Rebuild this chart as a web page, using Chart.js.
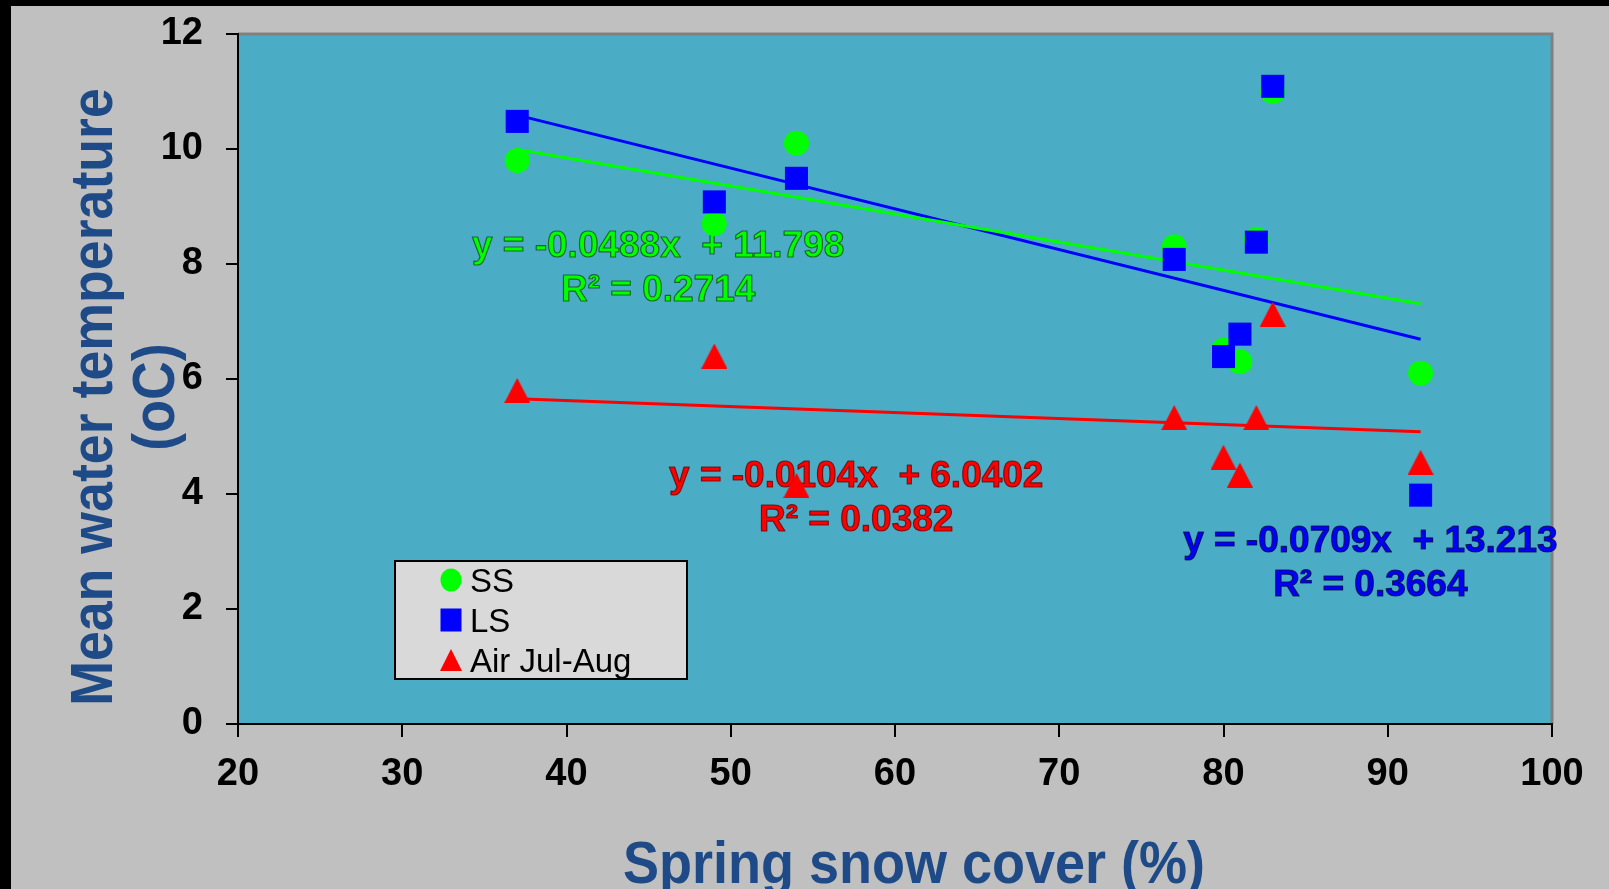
<!DOCTYPE html>
<html><head><meta charset="utf-8">
<script src="https://cdn.jsdelivr.net/npm/chart.js@4.4.1/dist/chart.umd.min.js"></script>
<style>
html,body{margin:0;padding:0;background:#000;overflow:hidden;width:1609px;height:889px;}
#wrap{position:absolute;left:11px;top:6px;width:1598px;height:900px;}
canvas{display:block;}
</style></head><body>
<div id="wrap"><canvas id="c" width="1598" height="900"></canvas></div>
<script>
// ---- data ----
const snowCover = [37, 49, 54, 77, 80, 81, 82, 83, 92];
const ssTemp    = [9.8, 8.7, 10.1, 8.3, 6.5, 6.3, 8.43, 11.0, 6.1];
const lsTemp    = [10.48, 9.08, 9.49, 8.08, 6.39, 6.78, 8.38, 11.09, 3.98];
const airTemp   = [5.8, 6.4, 4.15, 5.33, 4.64, 4.33, 5.33, 7.13, 4.55];
const seriesNames = ['SS', 'LS', 'Air Jul-Aug'];
const trendSlopes = [-0.0488, -0.0709, -0.0104];
const trendIntercepts = ['11.798', '13.213', '6.0402'];
const trendR2 = ['0.2714', '0.3664', '0.0382'];
const xTicks = [20, 30, 40, 50, 60, 70, 80, 90, 100];
const yTicks = [0, 2, 4, 6, 8, 10, 12];
const xTitle = 'Spring snow cover (%)';
const yTitle = ['Mean water temperature', '(oC)'];

// ---- styling ----
const FONT = "'Liberation Sans', Arial, sans-serif";
const colors = ['#00FF00', '#0000FF', '#FF0000'];
const outline = ['rgba(20,70,20,0.75)', 'rgba(0,0,60,0.75)', 'rgba(90,0,0,0.75)'];
// equation label anchors (data units: centre x, baseline y of first line)
const eqAnchors = [{x: 45.58, y: 8.13}, {x: 88.94, y: 2.99}, {x: 57.64, y: 4.12}];

function makeTriangle(w, h, color) {
  const c = document.createElement('canvas'); c.width = w; c.height = h;
  const g = c.getContext('2d'); g.fillStyle = color;
  g.beginPath(); g.moveTo(w / 2, 0); g.lineTo(w, h); g.lineTo(0, h); g.closePath(); g.fill();
  return c;
}
const triImg = makeTriangle(26, 25, colors[2]);

const pts = (ys) => snowCover.map((x, i) => ({x: x, y: ys[i]}));
const xMin = Math.min(...snowCover), xMax = Math.max(...snowCover);
const trend = (k) => [xMin, xMax].map(x => ({x: x, y: trendSlopes[k] * x + parseFloat(trendIntercepts[k])}));

const bgPlugin = {
  id: 'bg',
  beforeDraw(chart) {
    const {ctx, chartArea: a, width, height} = chart;
    ctx.save();
    ctx.fillStyle = '#C0C0C0'; ctx.fillRect(0, 0, width, height);
    ctx.fillStyle = '#4BACC6'; ctx.fillRect(a.left, a.top, a.right - a.left, a.bottom - a.top);
    ctx.strokeStyle = '#808080'; ctx.lineWidth = 3;
    ctx.beginPath(); ctx.moveTo(a.left, a.top); ctx.lineTo(a.right, a.top); ctx.lineTo(a.right, a.bottom); ctx.stroke();
    ctx.restore();
  },
  beforeDatasetsDraw(chart) {
    const {ctx, scales: {x, y}} = chart;
    ctx.save();
    ctx.font = 'bold 37px ' + FONT;
    ctx.textAlign = 'center'; ctx.textBaseline = 'alphabetic';
    ctx.lineJoin = 'round';
    for (let k = 0; k < 3; k++) {
      const cx = x.getPixelForValue(eqAnchors[k].x);
      const by = y.getPixelForValue(eqAnchors[k].y);
      const lines = ['y = ' + trendSlopes[k] + 'x  + ' + trendIntercepts[k], 'R\u00B2 = ' + trendR2[k]];
      lines.forEach((t, i) => {
        ctx.fillStyle = colors[k]; ctx.fillText(t, cx, by + i * 44);
        ctx.strokeStyle = outline[k]; ctx.lineWidth = 1.2; ctx.strokeText(t, cx, by + i * 44);
      });
    }
    ctx.restore();
  },
  afterDraw(chart) {
    const {ctx, chartArea: a} = chart;
    ctx.save();
    // legend box
    const bx = a.left + 157, by = a.top + 527, bw = 292, bh = 118;
    ctx.fillStyle = '#D9D9D9'; ctx.fillRect(bx, by, bw, bh);
    ctx.strokeStyle = '#000'; ctx.lineWidth = 2; ctx.strokeRect(bx, by, bw, bh);
    const mx = bx + 56;
    const rows = [19, 59, 99];
    rows.forEach((ry, i) => {
      const cy = by + ry;
      ctx.fillStyle = colors[i];
      ctx.beginPath();
      if (i === 0) { ctx.ellipse(mx, cy, 10.5, 11.5, 0, 0, Math.PI * 2); }
      else if (i === 1) { ctx.rect(mx - 10.5, cy - 11.5, 21, 23); }
      else { ctx.moveTo(mx, cy - 11); ctx.lineTo(mx + 11, cy + 11); ctx.lineTo(mx - 11, cy + 11); ctx.closePath(); }
      ctx.fill();
      ctx.fillStyle = '#000'; ctx.font = '33px ' + FONT;
      ctx.textAlign = 'left'; ctx.textBaseline = 'middle';
      ctx.fillText(seriesNames[i], mx + 19, cy + 3);
    });
    // axis titles
    ctx.fillStyle = '#1E4B87';
    ctx.textAlign = 'center'; ctx.textBaseline = 'alphabetic';
    ctx.font = 'bold 59px ' + FONT;
    const yc = (a.top + a.bottom) / 2 + 18;
    [101, 163].forEach((bx2, i) => {
      ctx.save(); ctx.translate(bx2, yc); ctx.rotate(-Math.PI / 2); ctx.scale(0.91, 1);
      ctx.fillText(yTitle[i], 0, 0); ctx.restore();
    });
    ctx.font = 'bold 60px ' + FONT;
    ctx.save(); ctx.translate((a.left + a.right) / 2 + 19, 877); ctx.scale(0.9, 1);
    ctx.fillText(xTitle, 0, 0); ctx.restore();
    ctx.restore();
  }
};

new Chart(document.getElementById('c'), {
  type: 'scatter',
  data: {
    datasets: [
      {label: seriesNames[2], data: pts(airTemp), pointStyle: triImg, pointRadius: 13, backgroundColor: colors[2], borderWidth: 0, order: 0},
      {label: seriesNames[1], data: pts(lsTemp), pointStyle: 'rect', pointRadius: 16.3, backgroundColor: colors[1], borderWidth: 0, order: 1},
      {label: seriesNames[0], data: pts(ssTemp), pointStyle: 'circle', pointRadius: 12.5, backgroundColor: colors[0], borderWidth: 0, order: 2},
      {type: 'line', label: 'trend SS', data: trend(0), borderColor: colors[0], borderWidth: 3, pointRadius: 0, fill: false, order: 3},
      {type: 'line', label: 'trend LS', data: trend(1), borderColor: colors[1], borderWidth: 3, pointRadius: 0, fill: false, order: 4},
      {type: 'line', label: 'trend Air', data: trend(2), borderColor: colors[2], borderWidth: 3, pointRadius: 0, fill: false, order: 5}
    ]
  },
  options: {
    responsive: false, animation: false, devicePixelRatio: 1,
    layout: {padding: {top: 28, right: 57, left: 0, bottom: 0}},
    plugins: {legend: {display: false}, tooltip: {enabled: false}},
    scales: {
      x: {
        type: 'linear', position: 'bottom', min: xTicks[0], max: xTicks[xTicks.length - 1],
        afterBuildTicks(s) { s.ticks = xTicks.map(v => ({value: v})); },
        ticks: {color: '#000', font: {family: FONT, size: 38, weight: 'bold'}, padding: 15},
        grid: {drawOnChartArea: false, drawTicks: true, tickLength: 13, color: '#000', lineWidth: 2},
        border: {display: true, color: '#000', width: 2},
        afterFit(s) { s.height = 182; s.paddingLeft = 0; s.paddingRight = 0; }
      },
      y: {
        type: 'linear', position: 'left', min: yTicks[0], max: yTicks[yTicks.length - 1],
        afterBuildTicks(s) { s.ticks = yTicks.map(v => ({value: v})); },
        ticks: {color: '#000', font: {family: FONT, size: 38, weight: 'bold'}, padding: 23},
        grid: {drawOnChartArea: false, drawTicks: true, tickLength: 12, color: '#000', lineWidth: 2},
        border: {display: true, color: '#000', width: 2},
        afterFit(s) { s.width = 227; s.paddingTop = 0; s.paddingBottom = 0; }
      }
    }
  },
  plugins: [bgPlugin]
});
</script>
</body></html>
